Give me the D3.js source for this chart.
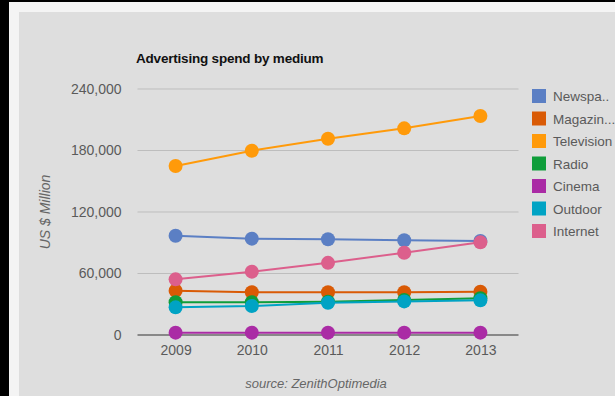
<!DOCTYPE html>
<html>
<head>
<meta charset="utf-8">
<script src="https://cdn.jsdelivr.net/npm/d3@7"></script>
<style>
  html, body { margin: 0; padding: 0; background: #000; }
  svg { display: block; }
  text { font-family: Arial, "Liberation Sans", sans-serif; }
</style>
</head>
<body>
<script>
// chart data
var years = ["2009", "2010", "2011", "2012", "2013"];
var names = ["Newspapers", "Magazines", "Television", "Radio", "Cinema", "Outdoor", "Internet"];
var legendLabels = ["Newspa..", "Magazin...", "Television", "Radio", "Cinema", "Outdoor", "Internet"];
var colors = ["#5b7fc4", "#d95a05", "#ff9a0a", "#0f9d3a", "#aa2ba5", "#00a3c4", "#dc5f8c"];

var newspapers = [96900, 94000, 93400, 92400, 91700];
var magazines = [43200, 41700, 41700, 41800, 42200];
var television = [164900, 179800, 191500, 201600, 213600];
var radio = [31900, 32000, 32500, 34100, 35800];
var cinema = [2300, 2300, 2300, 2300, 2300];
var outdoor = [27000, 28300, 31500, 32800, 33800];
var internet = [54300, 61800, 70400, 80300, 90400];

var yTicks = [0, 60000, 120000, 180000, 240000];

var seriesValues = [newspapers, magazines, television, radio, cinema, outdoor, internet];

var W = 615, H = 396;
var svg = d3.select("body").append("svg")
	.attr("width", W)
	.attr("height", H);

// frame: black strip, white border, gray panel
svg.append("rect").attr("x", 0).attr("y", 0).attr("width", W).attr("height", H).attr("fill", "#000");
svg.append("rect").attr("x", 9).attr("y", 2).attr("width", W - 9).attr("height", H - 2).attr("fill", "#f4f4f4");
svg.append("rect").attr("x", 19).attr("y", 12).attr("width", W - 19).attr("height", H - 12).attr("fill", "#dedede");

var plotLeft = 137.5, plotRight = 518.5, plotTop = 89, plotBottom = 335;

var x = d3.scalePoint()
	.domain(years)
	.range([plotLeft, plotRight])
	.padding(0.5);

var y = d3.scaleLinear()
	.domain([0, 240000])
	.range([plotBottom, plotTop]);

// gridlines
svg.append("g").selectAll("line")
	.data(yTicks)
	.enter().append("line")
	.attr("x1", plotLeft)
	.attr("x2", plotRight)
	.attr("y1", function(d){ return y(d); })
	.attr("y2", function(d){ return y(d); })
	.attr("stroke", function(d){ return d == 0 ? "#888" : "#bdbdbd"; })
	.attr("stroke-width", function(d){ return d == 0 ? 2 : 1; });

// y axis labels
var yAxis = d3.axisLeft(y)
	.tickValues(yTicks)
	.tickSize(0)
	.tickPadding(16)
	.tickFormat(d3.format(","));

svg.append("g")
	.attr("transform", "translate(" + plotLeft + ",0)")
	.call(yAxis)
	.call(function(g){ g.select(".domain").remove(); })
	.selectAll("text")
	.attr("font-size", "14px")
	.attr("font-family", "Arial, 'Liberation Sans', sans-serif")
	.attr("fill", "#5a5a5a");

// x axis labels
var xAxis = d3.axisBottom(x).tickSize(0).tickPadding(10);

svg.append("g")
	.attr("transform", "translate(0," + plotBottom + ")")
	.call(xAxis)
	.call(function(g){ g.select(".domain").remove(); })
	.selectAll("text")
	.attr("font-size", "14px")
	.attr("font-family", "Arial, 'Liberation Sans', sans-serif")
	.attr("fill", "#5a5a5a");

// lines and points
var line = d3.line()
	.x(function(d, i){ return x(years[i]); })
	.y(function(d){ return y(d); });

var series = svg.append("g").selectAll("g")
	.data(seriesValues)
	.enter().append("g");

series.append("path")
	.attr("d", function(d){ return line(d); })
	.attr("fill", "none")
	.attr("stroke", function(d, i){ return colors[i]; })
	.attr("stroke-width", 2);

series.each(function(vals, i){
	d3.select(this).selectAll("circle")
		.data(vals)
		.enter().append("circle")
		.attr("cx", function(d, j){ return x(years[j]); })
		.attr("cy", function(d){ return y(d); })
		.attr("r", 7)
		.attr("fill", colors[i]);
});

// title
svg.append("text")
	.attr("x", 136)
	.attr("y", 63)
	.attr("font-size", "13.5px")
	.attr("font-weight", "bold")
	.attr("letter-spacing", "-0.2px")
	.attr("fill", "#111")
	.text("Advertising spend by medium");

// y axis title
svg.append("text")
	.attr("transform", "translate(50,212) rotate(-90)")
	.attr("text-anchor", "middle")
	.attr("font-size", "14px")
	.attr("font-style", "italic")
	.attr("fill", "#666")
	.text("US $ Million");

// source
svg.append("text")
	.attr("x", 316)
	.attr("y", 388)
	.attr("text-anchor", "middle")
	.attr("font-size", "13px")
	.attr("font-style", "italic")
	.attr("fill", "#666")
	.text("source: ZenithOptimedia");

// legend
var legend = svg.append("g").selectAll("g")
	.data(legendLabels)
	.enter().append("g")
	.attr("transform", function(d, i){ return "translate(532," + (89 + i * 22.5) + ")"; });

legend.append("rect")
	.attr("width", 14)
	.attr("height", 14)
	.attr("fill", function(d, i){ return colors[i]; });

legend.append("text")
	.attr("x", 21)
	.attr("y", 12)
	.attr("font-size", "13.5px")
	.attr("fill", "#5a5a5a")
	.text(function(d){ return d; });
</script>
</body>
</html>
